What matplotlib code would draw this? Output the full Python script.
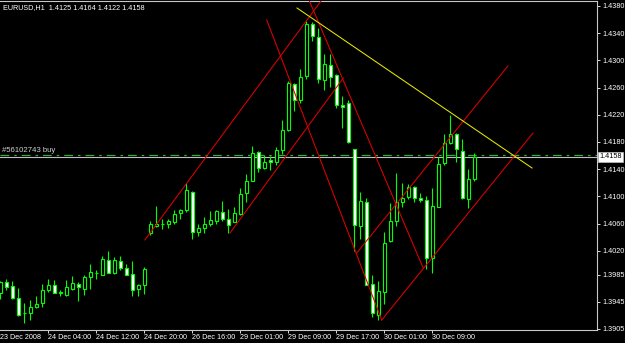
import matplotlib

matplotlib.use("Agg")
import matplotlib.pyplot as plt
import numpy as np

OUT = "out.png"

# EURUSD H1 bars (bar index = position from left edge)
opens = [1.3958, 1.3974, 1.3968, 1.3950, 1.3928, 1.3928, 1.3938, 1.3943, 1.3963, 1.3969,
         1.3958, 1.3955, 1.3964, 1.3971, 1.3964, 1.3981, 1.3987, 1.3985, 1.4006, 1.3987,
         1.4005, 1.3995, 1.3986, 1.3964, 1.3969, 1.4046, 1.4057, 1.4060, 1.4059, 1.4063,
         1.4075, 1.4080, 1.4107, 1.4047, 1.4054, 1.4059, 1.4064, 1.4077, 1.4066, 1.4063,
         1.4074, 1.4105, 1.4123, 1.4165, 1.4141, 1.4153, 1.4150, 1.4168, 1.4197, 1.4265,
         1.4241, 1.4277, 1.4354, 1.4334, 1.4271, 1.4293, 1.4279, 1.4234, 1.4238, 1.4169,
         1.4057, 1.4092, 1.3971, 1.3926, 1.3960, 1.4034, 1.4064, 1.4091, 1.4099, 1.4114,
         1.4098, 1.4094, 1.4009, 1.4085, 1.4149, 1.4179, 1.4192, 1.4167, 1.4096, 1.4125]
highs = [1.3976, 1.3978, 1.3976, 1.3965, 1.3943, 1.3947, 1.3954, 1.3971, 1.3978, 1.3977,
         1.3962, 1.3977, 1.3983, 1.3974, 1.3984, 1.4001, 1.3992, 1.4012, 1.4020, 1.4011,
         1.4012, 1.4001, 1.4005, 1.3971, 1.3996, 1.4064, 1.4086, 1.4067, 1.4067, 1.4080,
         1.4081, 1.4119, 1.4108, 1.4059, 1.4069, 1.4079, 1.4080, 1.4093, 1.4081, 1.4084,
         1.4112, 1.4133, 1.4174, 1.4166, 1.4161, 1.4160, 1.4172, 1.4212, 1.4270, 1.4266,
         1.4287, 1.4358, 1.4357, 1.4347, 1.4309, 1.4309, 1.4280, 1.4247, 1.4242, 1.4170,
         1.4107, 1.4098, 1.3984, 1.3975, 1.4047, 1.4090, 1.4135, 1.4120, 1.4118, 1.4115,
         1.4105, 1.4101, 1.4112, 1.4158, 1.4192, 1.4220, 1.4193, 1.4184, 1.4140, 1.4164]
lows = [1.3949, 1.3962, 1.3949, 1.3924, 1.3914, 1.3918, 1.3936, 1.3937, 1.3960, 1.3958,
        1.3954, 1.3954, 1.3962, 1.3946, 1.3955, 1.3964, 1.3978, 1.3984, 1.3988, 1.3986,
        1.3992, 1.3984, 1.3953, 1.3953, 1.3956, 1.4043, 1.4055, 1.4052, 1.4053, 1.4060,
        1.4067, 1.4077, 1.4038, 1.4041, 1.4046, 1.4056, 1.4060, 1.4064, 1.4046, 1.4062,
        1.4073, 1.4092, 1.4122, 1.4136, 1.4140, 1.4139, 1.4146, 1.4163, 1.4196, 1.4226,
        1.4238, 1.4272, 1.4328, 1.4267, 1.4256, 1.4261, 1.4230, 1.4200, 1.4179, 1.4019,
        1.4037, 1.3969, 1.3922, 1.3918, 1.3942, 1.4033, 1.4056, 1.4084, 1.4096, 1.4092,
        1.4092, 1.3993, 1.3987, 1.4084, 1.4146, 1.4177, 1.4150, 1.4096, 1.4083, 1.4122]
closes = [1.3974, 1.3966, 1.3950, 1.3926, 1.3928, 1.3937, 1.3942, 1.3963, 1.3969, 1.3958,
          1.3959, 1.3966, 1.3973, 1.3966, 1.3981, 1.3989, 1.3987, 1.4008, 1.3988, 1.4006,
          1.3994, 1.3985, 1.3963, 1.3970, 1.3993, 1.4059, 1.4060, 1.4060, 1.4064, 1.4074,
          1.4080, 1.4109, 1.4048, 1.4053, 1.4060, 1.4065, 1.4078, 1.4066, 1.4058, 1.4075,
          1.4104, 1.4123, 1.4164, 1.4141, 1.4151, 1.4151, 1.4168, 1.4198, 1.4266, 1.4242,
          1.4276, 1.4353, 1.4336, 1.4272, 1.4294, 1.4276, 1.4234, 1.4231, 1.4180, 1.4058,
          1.4093, 1.3970, 1.3928, 1.3961, 1.4032, 1.4064, 1.4091, 1.4097, 1.4114, 1.4097,
          1.4094, 1.4010, 1.4086, 1.4147, 1.4178, 1.4191, 1.4169, 1.4097, 1.4125, 1.4158]

time_ticks = [0, 8, 16, 24, 32, 40, 48, 56, 64, 72]
time_labels = ["23 Dec 2008", "24 Dec 04:00", "24 Dec 12:00", "24 Dec 20:00", "26 Dec 16:00",
               "29 Dec 01:00", "29 Dec 09:00", "29 Dec 17:00", "30 Dec 01:00", "30 Dec 09:00"]
price_ticks = [1.4380, 1.4340, 1.4300, 1.4260, 1.4220, 1.4180, 1.4140, 1.4100,
               1.4060, 1.4020, 1.3985, 1.3945, 1.3905]

# hand-drawn trendlines: (bar, price) anchor pairs
red_lines = [
    ([24.1, 53.45], [1.40359, 1.43873]),
    ([38.28, 57.17], [1.40462, 1.42741]),
    ([44.4, 63.57], [1.43594, 1.39182]),
    ([51.45, 70.5], [1.43888, 1.39942]),
    ([59.4, 84.6], [1.40167, 1.42917]),
    ([63.57, 88.78], [1.39182, 1.41932]),
]
yellow_line = ([49.45, 88.62], [1.43770, 1.41417])

bid = 1.4158
order_price = 1.4161
order_label = "#56102743 buy"
title = "EURUSD,H1  1.4125 1.4164 1.4122 1.4158"

LIME = "#00ff00"
FONT = "Liberation Sans"


def main() -> None:
    fig = plt.figure(figsize=(6.25, 3.43), dpi=100, facecolor="black")
    ax = fig.add_axes([0.0, 13 / 343, 597 / 625, 329 / 343], facecolor="black")

    x = np.arange(len(opens))
    o = np.array(opens); h = np.array(highs); l = np.array(lows); c = np.array(closes)

    # wicks then bodies
    ax.vlines(x, l, h, color=LIME, lw=0.8, zorder=3)
    bull = c >= o
    bottoms = np.minimum(o, c)
    heights = np.abs(c - o)
    ax.bar(x[bull], heights[bull], bottom=bottoms[bull], width=0.55,
           facecolor="black", edgecolor=LIME, lw=0.8, zorder=4)
    ax.bar(x[~bull], heights[~bull], bottom=bottoms[~bull], width=0.55,
           facecolor="white", edgecolor=LIME, lw=0.8, zorder=4)

    for xs, ys in red_lines:
        ax.plot(xs, ys, color="#e00000", lw=0.75, zorder=5)
    ax.plot(*yellow_line, color="#e8e800", lw=0.75, zorder=5)

    # bid line and open order
    ax.axhline(bid, color="#c0c0c0", lw=0.8, zorder=2)
    ax.axhline(order_price, color="#30b030", lw=0.9, ls=(0, (7, 4, 2, 4)), zorder=2)
    ax.text(0.3, order_price + 0.00012, order_label, color="#d0d0d0", fontsize=5.6,
            family=FONT, va="bottom", ha="left")

    ax.set_xlim(-0.05, 99.45)
    ax.set_ylim(1.39035, 1.43873)

    ax.yaxis.tick_right()
    ax.set_yticks(price_ticks)
    ax.set_yticklabels([f"{p:.4f}" for p in price_ticks])
    ax.set_xticks(time_ticks)
    ax.set_xticklabels(time_labels, ha="left")
    ax.tick_params(axis="both", colors="white", labelcolor="white", labelsize=5.2,
                   length=2.2, width=0.6, pad=1.5)
    ax.tick_params(axis="x", pad=1.0)
    for lab in ax.get_xticklabels() + ax.get_yticklabels():
        lab.set_family(FONT)
    ax.get_xaxis().majorTicks[0].tick1line.set_visible(False)

    for side in ("right", "bottom", "top"):
        ax.spines[side].set_color("#c8c8c8")
        ax.spines[side].set_linewidth(0.8)
    ax.spines["left"].set_visible(False)

    ax.text(0.005, 0.992, title, transform=ax.transAxes, color="white", fontsize=5.2,
            family=FONT, va="top", ha="left")
    ax.text(1.004, bid, f"{bid:.4f}", transform=ax.get_yaxis_transform(), color="black",
            fontsize=5.2, family=FONT, va="center", ha="left", zorder=10, clip_on=False,
            bbox=dict(facecolor="white", edgecolor="#c0c0c0", pad=0.8, lw=0.5))

    fig.savefig(OUT, dpi=100, facecolor="black")


if __name__ == "__main__":
    main()
